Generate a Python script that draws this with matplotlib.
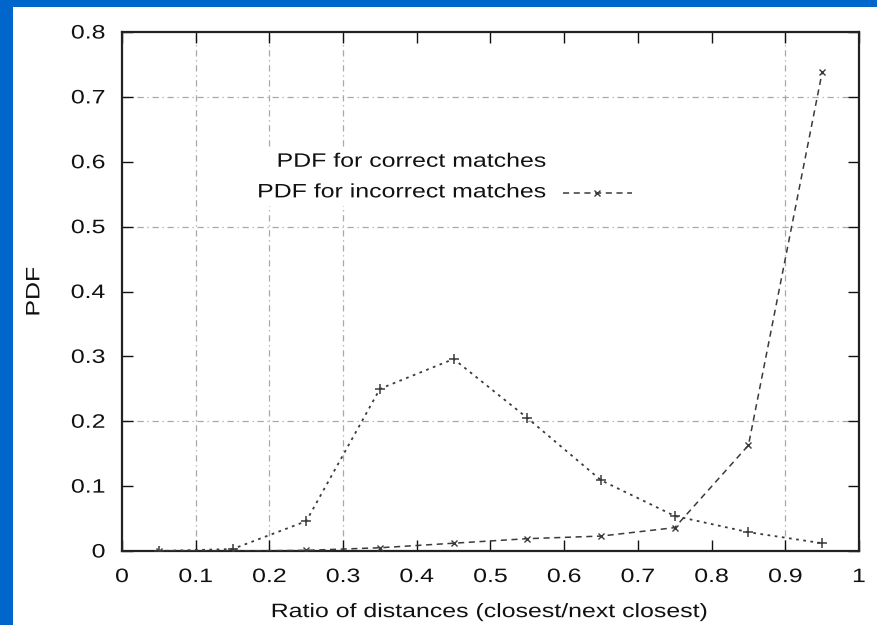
import matplotlib
matplotlib.use("Agg")
import matplotlib.pyplot as plt
from matplotlib.patches import Rectangle
from matplotlib.lines import Line2D
from matplotlib.patheffects import AbstractPathEffect
from matplotlib.transforms import Affine2D

# ---- data ----
ratio = [0.05, 0.15, 0.25, 0.35, 0.45, 0.55, 0.65, 0.75, 0.85, 0.95]
pdf_correct = [0.0, 0.003, 0.046, 0.250, 0.296, 0.205, 0.109, 0.054, 0.029, 0.012]
pdf_incorrect = [0.0, 0.0, 0.001, 0.005, 0.012, 0.019, 0.023, 0.036, 0.163, 0.738]
xticks = [0, 0.1, 0.2, 0.3, 0.4, 0.5, 0.6, 0.7, 0.8, 0.9, 1]
xticklabels = ["0", "0.1", "0.2", "0.3", "0.4", "0.5", "0.6", "0.7", "0.8", "0.9", "1"]
yticks = [0, 0.1, 0.2, 0.3, 0.4, 0.5, 0.6, 0.7, 0.8]
yticklabels = ["0", "0.1", "0.2", "0.3", "0.4", "0.5", "0.6", "0.7", "0.8"]
grid_x = [0.1, 0.2, 0.3, 0.9]
grid_y = [0.2, 0.5, 0.7]
label_correct = "PDF for correct matches"
label_incorrect = "PDF for incorrect matches"
xlabel = "Ratio of distances (closest/next closest)"
ylabel = "PDF"

plt.rcParams['font.family'] = ['Liberation Sans', 'DejaVu Sans']
FS = 14
SX = 1.28


class Stretch(AbstractPathEffect):
    """Stretch glyphs along the text direction, keeping the alignment anchor."""

    def __init__(self, sx, anchor="center"):
        super().__init__()
        self.sx = sx
        self.anchor = anchor

    def draw_path(self, renderer, gc, tpath, affine, rgbFace=None):
        ext = tpath.get_extents()
        if self.anchor == "right":
            cx = ext.x1
        elif self.anchor == "left":
            cx = 0.0
        else:
            cx = 0.5 * (ext.x0 + ext.x1)
        t = Affine2D().translate(-cx, 0).scale(self.sx, 1).translate(cx, 0)
        renderer.draw_path(gc, tpath, t + affine, rgbFace)


W, H = 877, 625
fig = plt.figure(figsize=(W / 100, H / 100), dpi=100, facecolor="white")
# blue frame on left and top
blue = "#0066cc"
fig.patches.append(Rectangle((0, 0), 13 / W, 1, transform=fig.transFigure,
                             facecolor=blue, edgecolor="none", zorder=-10))
fig.patches.append(Rectangle((0, 1 - 7 / H), 1, 7 / H, transform=fig.transFigure,
                             facecolor=blue, edgecolor="none", zorder=-10))

ax = fig.add_axes([122 / W, 1 - 551 / H, (859 - 122) / W, (551 - 32) / H])
ax.set_zorder(5)
ax.set_facecolor("white")
ax.set_xlim(0, 1)
ax.set_ylim(0, 0.8)

gridstyle = dict(color="#a8a8a8", lw=0.9, ls=(0, (5, 3, 1, 3)), zorder=1)
for gx in grid_x:
    ax.axvline(gx, **gridstyle)
for gy in grid_y:
    ax.axhline(gy, **gridstyle)

# legend background (hides grid)
ax.add_patch(Rectangle((0.18, 0.665), 0.55, 0.11, transform=ax.transAxes,
                       facecolor="white", edgecolor="none", zorder=2))

ax.plot(ratio, pdf_correct, color="#3a3a3a", lw=1.3, ls=(0, (1.5, 2.5)),
        marker="+", ms=7, mew=1.1, zorder=3)
ax.plot(ratio, pdf_incorrect, color="#3a3a3a", lw=1.1, ls=(0, (4, 3)),
        marker="x", ms=5, mew=1.0, zorder=3)

# legend
t1 = ax.text(0.577, 0.749, label_correct, transform=ax.transAxes, ha="right",
             va="center", fontsize=FS, color="#111111", zorder=4)
t2 = ax.text(0.577, 0.690, label_incorrect, transform=ax.transAxes, ha="right",
             va="center", fontsize=FS, color="#111111", zorder=4)
for t in (t1, t2):
    t.set_path_effects([Stretch(SX, "right")])
ax.add_line(Line2D([0.598, 0.692], [0.690, 0.690], transform=ax.transAxes,
                   color="#3a3a3a", lw=1.1, ls=(0, (4, 3)), zorder=4))
ax.add_line(Line2D([0.645], [0.690], transform=ax.transAxes, color="#3a3a3a",
                   marker="x", ms=5, mew=1.0, zorder=4))

ax.set_xticks(xticks)
ax.set_xticklabels(xticklabels)
ax.set_yticks(yticks)
ax.set_yticklabels(yticklabels)
ax.tick_params(direction="in", length=8, width=1.0, top=True, right=True,
               labelsize=FS, colors="#111111")
ax.tick_params(axis="x", pad=13)
ax.tick_params(axis="y", pad=12)
for lab in ax.get_xticklabels():
    lab.set_path_effects([Stretch(SX, "center")])
for lab in ax.get_yticklabels():
    lab.set_path_effects([Stretch(SX, "right")])
for s in ax.spines.values():
    s.set_linewidth(1.6)
    s.set_color("#222222")

ax.set_xlabel(xlabel, fontsize=FS, color="#111111", labelpad=13)
ax.set_ylabel(ylabel, fontsize=FS, color="#111111", labelpad=25)
ax.xaxis.label.set_path_effects([Stretch(SX, "center")])
ax.yaxis.label.set_path_effects([Stretch(SX, "center")])

fig.savefig("out.png", dpi=100, facecolor=fig.get_facecolor())
